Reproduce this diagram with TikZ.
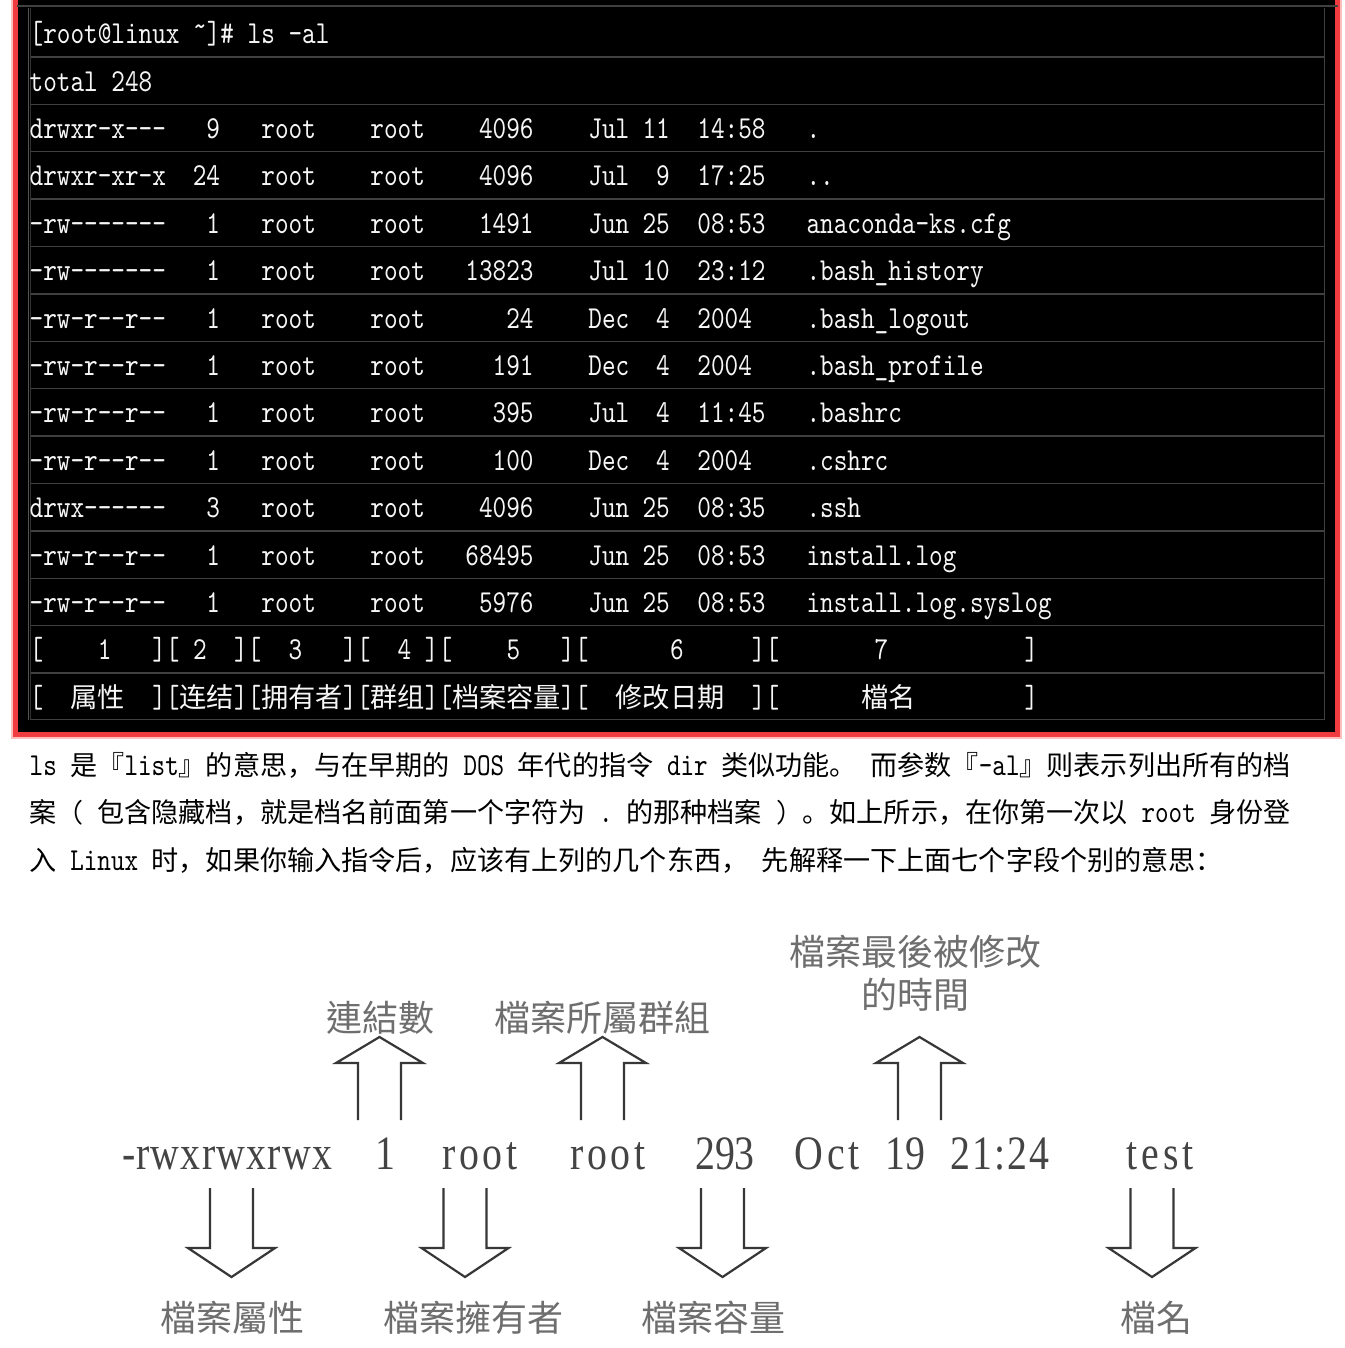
\documentclass[tikz,border=0pt]{standalone}
\usepackage{fontspec}
\usepackage{graphicx}
\newfontfamily\tmono[FakeStretch=0.8112]{lmmono10-regular.otf}
\newfontfamily\tcjk{Noto Sans CJK SC}
\newfontfamily\tccjk{Noto Sans CJK TC}
\newfontfamily\bser[FakeStretch=0.83]{Liberation Serif}
\newfontfamily\bsersp[FakeStretch=0.83,LetterSpace=8]{Liberation Serif}
\newfontfamily\bserlo[FakeStretch=0.83,LetterSpace=2.5]{Liberation Serif}
\newfontfamily\bsermid[FakeStretch=0.83,LetterSpace=4]{Liberation Serif}
\newlength\cellw \setlength\cellw{13.628pt}
\newcommand\MonoT[1]{{\tmono\fontsize{32}{36}\selectfont #1}}
\newcommand\CjkT[1]{{\tcjk\fontsize{27.256}{36}\selectfont #1}}
\newcommand\GapT[1]{\hspace*{#1\cellw}}
\definecolor{termred}{RGB}{240,60,64}
\definecolor{termpink}{RGB}{255,190,190}
\definecolor{gridgray}{RGB}{64,64,64}
\definecolor{txtwhite}{RGB}{246,246,246}
\definecolor{diagtxt}{RGB}{68,68,68}
\definecolor{diaglab}{RGB}{110,110,110}
\definecolor{arrowc}{RGB}{55,55,55}
\tikzset{
  term/.style={anchor=base west, inner sep=0pt, text=txtwhite, font=\tmono\fontsize{32}{36}\selectfont},
  termr/.style={term, anchor=base east},
  para/.style={anchor=base west, inner sep=0pt, text=black},
  word/.style={anchor=base, inner sep=0pt, text=diagtxt, font=\bser\fontsize{48}{50}\selectfont},
  wordsp/.style={word, font=\bsersp\fontsize{48}{50}\selectfont},
  wordlo/.style={word, font=\bserlo\fontsize{48}{50}\selectfont},
  wordmid/.style={word, font=\bsermid\fontsize{48}{50}\selectfont},
  lab/.style={inner sep=0pt, text=diaglab, font=\tccjk\fontsize{36}{40}\selectfont},
  arr/.style={draw=arrowc, line width=2.2pt, line join=miter},
  gridline/.style={draw=gridgray, line width=1.4pt},
  uparr/.pic={\draw[arr] (-21.5,0) -- (-21.5,-57) -- (-43.5,-57) -- (0,-83) -- (43.5,-57) -- (21.5,-57) -- (21.5,0);},
  downarr/.pic={\draw[arr] (-21.5,0) -- (-21.5,60) -- (-43.5,60) -- (0,89) -- (43.5,60) -- (21.5,60) -- (21.5,0);}
}
\begin{document}
\begin{tikzpicture}[x=1pt,y=-1pt]
\useasboundingbox[fill=white] (0,0) rectangle (1344,1348);
% terminal frame
\draw[termpink, line width=9pt] (15.5,-30) rectangle (1337.5,734.5);
\fill[black] (18,-10) rectangle (1335,732);
\draw[termred, line width=5pt] (15.5,-30) rectangle (1337.5,734.5);
\draw[gridline] (17,6) -- (1338,6);
\draw[draw={rgb,255:red,85;green,85;blue,85}, line width=1pt] (28.3,8) -- (28.3,720);
\draw[draw={rgb,255:red,50;green,50;blue,50}, line width=1pt] (30.7,8) -- (30.7,720);
\draw[gridline] (1324.5,8) -- (1324.5,720);
\draw[gridline] (31,719.5) -- (1325,719.5);
\foreach \k in {1,...,14}{
  \draw[gridline] (31,{9.5+47.4*\k}) -- (1324,{9.5+47.4*\k});
}
% terminal text
\node[term] (prompt) at (29.5,43.7) {[root@linux\GapT{1}\raisebox{7pt}{\textasciitilde}]\#\GapT{1}ls\GapT{1}-al};
\node[term] (total) at (29.5,91.1) {total\GapT{1}248};
\foreach \i/\pa/\lk/\sz/\mo/\dy/\ti/\fn in {
 2/{drwxr-x-{}-{}-}/9/4096/Jul/11/14:58/{.},
 3/{drwxr-xr-x}/24/4096/Jul/9/17:25/{.{}.},
 4/{-rw-{}-{}-{}-{}-{}-{}-}/1/1491/Jun/25/08:53/{anaconda-ks.cfg},
 5/{-rw-{}-{}-{}-{}-{}-{}-}/1/13823/Jul/10/23:12/{.bash\_history},
 6/{-rw-r-{}-r-{}-}/1/24/Dec/4/2004/{.bash\_logout},
 7/{-rw-r-{}-r-{}-}/1/191/Dec/4/2004/{.bash\_profile},
 8/{-rw-r-{}-r-{}-}/1/395/Jul/4/11:45/{.bashrc},
 9/{-rw-r-{}-r-{}-}/1/100/Dec/4/2004/{.cshrc},
 10/{drwx-{}-{}-{}-{}-{}-}/3/4096/Jun/25/08:35/{.ssh},
 11/{-rw-r-{}-r-{}-}/1/68495/Jun/25/08:53/{install.log},
 12/{-rw-r-{}-r-{}-}/1/5976/Jun/25/08:53/{install.log.syslog}}{
  \pgfmathsetmacro\yb{43.7+47.4*\i}
  \node[term] (perm\i) at (29.5,\yb) {\pa};
  \node[termr] (link\i) at ({29.5+14*13.628},\yb) {\lk};
  \node[term] (own\i) at ({29.5+17*13.628},\yb) {root};
  \node[term] (grp\i) at ({29.5+25*13.628},\yb) {root};
  \node[termr] (size\i) at ({29.5+37*13.628},\yb) {\sz};
  \node[term] (mon\i) at ({29.5+41*13.628},\yb) {\mo};
  \node[termr] (day\i) at ({29.5+47*13.628},\yb) {\dy};
  \node[term] (time\i) at ({29.5+49*13.628},\yb) {\ti};
  \node[term] (file\i) at ({29.5+57*13.628},\yb) {\fn};
}
\node[term] (nums) at (29.5,659.9) {[\GapT{4}1\GapT{3}][\GapT{1}2\GapT{2}][\GapT{2}3\GapT{3}][\GapT{2}4\GapT{1}][\GapT{4}5\GapT{3}][\GapT{6}6\GapT{5}][\GapT{7}7\GapT{10}]};
\node[term] (heads) at (29.5,707.3) {[\GapT{2}\CjkT{属性}\GapT{2}][\CjkT{连结}][\CjkT{拥有者}][\CjkT{群组}][\CjkT{档案容量}][\GapT{2}\CjkT{修改日期}\GapT{2}][\GapT{6}\CjkT{檔名}\GapT{8}]};
% paragraph
\node[para] (line1) at (29.5,775.5) {\scalebox{0.995}[1]{\MonoT{ls}\GapT{1}\CjkT{是『}\MonoT{list}\CjkT{』的意思，与在早期的}\GapT{1}\MonoT{DOS}\GapT{1}\CjkT{年代的指令}\GapT{1}\MonoT{dir}\GapT{1}\CjkT{类似功能。}\GapT{1}\CjkT{而参数『}\MonoT{-al}\CjkT{』则表示列出所有的档}}};
\node[para] (line2) at (29.5,822.9) {\scalebox{0.995}[1]{\CjkT{案}\GapT{1}\MonoT{(}\GapT{1}\CjkT{包含隐藏档，就是档名前面第一个字符为}\GapT{1}\MonoT{.}\GapT{1}\CjkT{的那种档案}\GapT{1}\MonoT{)}\GapT{1}\CjkT{。如上所示，在你第一次以}\GapT{1}\MonoT{root}\GapT{1}\CjkT{身份登}}};
\node[para] (line3) at (29.5,870.3) {\scalebox{0.995}[1]{\CjkT{入}\GapT{1}\MonoT{Linux}\GapT{1}\CjkT{时，如果你输入指令后，应该有上列的几个东西，}\GapT{1}\CjkT{先解释一下上面七个字段个别的意思：}}};
% diagram words
\node[wordlo] (wperm) at (227,1169) {-rwxrwxrwx};
\node[word] (wlink) at (385,1169) {1};
\node[wordsp] (wown) at (480,1169) {root};
\node[wordsp] (wgrp) at (608,1169) {root};
\node[word] (wsize) at (725,1169) {293};
\node[wordsp] (wmon) at (827,1169) {Oct};
\node[word] (wday) at (905,1169) {19};
\node[wordmid] (wtime) at (1000,1169) {21:24};
\node[wordsp] (wname) at (1160,1169) {test};
% labels
\node[lab] (llink) at (380,1018) {連結數};
\node[lab] (lgrp) at (602,1018) {檔案所屬群組};
\node[lab] (ltime1) at (915,952) {檔案最後被修改};
\node[lab] (ltime2) at (915,995) {的時間};
\node[lab] (lperm) at (232,1318) {檔案屬性};
\node[lab] (lown) at (473,1318) {檔案擁有者};
\node[lab] (lsize) at (713,1318) {檔案容量};
\node[lab] (lname) at (1156,1318) {檔名};
% arrows
\pic at (379.5,1120) {uparr};
\pic at (602.5,1120) {uparr};
\pic at (919.5,1120) {uparr};
\pic at (231.5,1188) {downarr};
\pic at (465,1188) {downarr};
\pic at (722.5,1188) {downarr};
\pic at (1152,1188) {downarr};
\end{tikzpicture}
\end{document}
